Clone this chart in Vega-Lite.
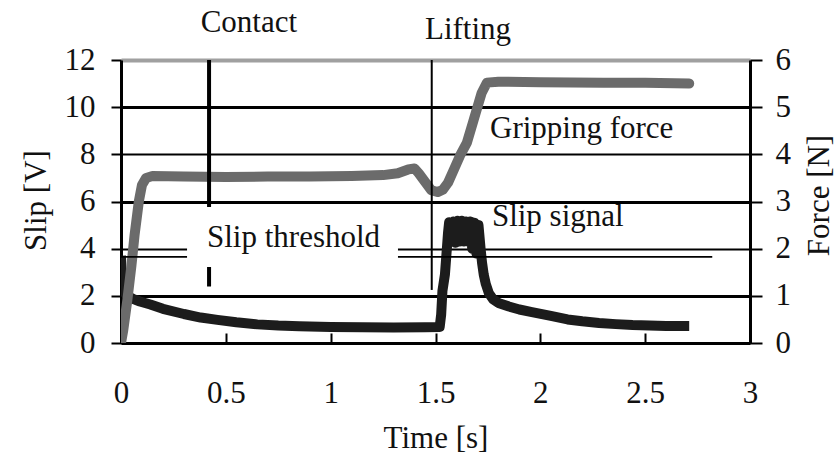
{
  "$schema": "https://vega.github.io/schema/vega-lite/v6.json",
  "width": 629,
  "height": 283,
  "autosize": "none",
  "padding": {"left": 121, "top": 60, "right": 86, "bottom": 112},
  "background": "white",
  "config": {
    "view": {"stroke": null},
    "font": "Liberation Serif",
    "axis": {
      "labelFont": "Liberation Serif",
      "titleFont": "Liberation Serif",
      "labelFontSize": 31,
      "titleFontSize": 31,
      "titleFontWeight": "normal",
      "labelColor": "#111",
      "titleColor": "#111",
      "domainColor": "#000",
      "tickColor": "#000",
      "labelOverlap": false,
      "labelFlush": false
    }
  },
  "datasets": {
    "slip": [
      {"t": 0, "v": 3.7}, {"t": 0.004, "v": 2.6}, {"t": 0.012, "v": 2.2}, {"t": 0.025, "v": 2.05},
      {"t": 0.045, "v": 1.93}, {"t": 0.06, "v": 1.86}, {"t": 0.09, "v": 1.76}, {"t": 0.14, "v": 1.63},
      {"t": 0.2, "v": 1.45}, {"t": 0.3, "v": 1.23}, {"t": 0.38, "v": 1.08}, {"t": 0.46, "v": 0.98},
      {"t": 0.55, "v": 0.88}, {"t": 0.65, "v": 0.79}, {"t": 0.75, "v": 0.74}, {"t": 0.85, "v": 0.71},
      {"t": 1.0, "v": 0.68}, {"t": 1.15, "v": 0.67}, {"t": 1.3, "v": 0.66}, {"t": 1.45, "v": 0.67},
      {"t": 1.52, "v": 0.68}, {"t": 1.527, "v": 1.2}, {"t": 1.533, "v": 2.2}, {"t": 1.545, "v": 2.9},
      {"t": 1.55, "v": 3.5}, {"t": 1.555, "v": 4.1}, {"t": 1.56, "v": 4.7}, {"t": 1.565, "v": 5.12},
      {"t": 1.575, "v": 4.3}, {"t": 1.585, "v": 5.15}, {"t": 1.595, "v": 4.25}, {"t": 1.605, "v": 5.18},
      {"t": 1.615, "v": 4.3}, {"t": 1.625, "v": 5.18}, {"t": 1.635, "v": 4.3}, {"t": 1.645, "v": 5.15},
      {"t": 1.655, "v": 4.3}, {"t": 1.665, "v": 5.15}, {"t": 1.675, "v": 4.0}, {"t": 1.685, "v": 5.1},
      {"t": 1.695, "v": 3.8}, {"t": 1.705, "v": 5.0}, {"t": 1.715, "v": 4.0}, {"t": 1.722, "v": 3.4},
      {"t": 1.73, "v": 2.9}, {"t": 1.74, "v": 2.5}, {"t": 1.755, "v": 2.1}, {"t": 1.775, "v": 1.85},
      {"t": 1.8, "v": 1.7}, {"t": 1.85, "v": 1.55}, {"t": 1.9, "v": 1.42}, {"t": 1.96, "v": 1.31},
      {"t": 2.05, "v": 1.15}, {"t": 2.13, "v": 1.0}, {"t": 2.2, "v": 0.92}, {"t": 2.28, "v": 0.85},
      {"t": 2.36, "v": 0.8}, {"t": 2.44, "v": 0.76}, {"t": 2.52, "v": 0.74}, {"t": 2.6, "v": 0.72},
      {"t": 2.71, "v": 0.72}
    ],
    "force": [
      {"t": 0, "f": 0}, {"t": 0.01, "f": 0.25}, {"t": 0.03, "f": 0.9}, {"t": 0.05, "f": 1.65},
      {"t": 0.065, "f": 2.3}, {"t": 0.085, "f": 3.0}, {"t": 0.1, "f": 3.35}, {"t": 0.12, "f": 3.5},
      {"t": 0.15, "f": 3.54}, {"t": 0.3, "f": 3.53}, {"t": 0.5, "f": 3.52}, {"t": 0.7, "f": 3.53},
      {"t": 0.9, "f": 3.53}, {"t": 1.1, "f": 3.54}, {"t": 1.25, "f": 3.56}, {"t": 1.32, "f": 3.6},
      {"t": 1.37, "f": 3.68}, {"t": 1.4, "f": 3.7}, {"t": 1.42, "f": 3.6}, {"t": 1.45, "f": 3.42},
      {"t": 1.48, "f": 3.24}, {"t": 1.51, "f": 3.2}, {"t": 1.535, "f": 3.25}, {"t": 1.56, "f": 3.4},
      {"t": 1.59, "f": 3.7}, {"t": 1.62, "f": 4.0}, {"t": 1.65, "f": 4.25}, {"t": 1.68, "f": 4.7},
      {"t": 1.7, "f": 5.0}, {"t": 1.72, "f": 5.3}, {"t": 1.745, "f": 5.52}, {"t": 1.8, "f": 5.54},
      {"t": 2.0, "f": 5.53}, {"t": 2.3, "f": 5.52}, {"t": 2.5, "f": 5.52}, {"t": 2.71, "f": 5.5}
    ],
    "threshold": [{"t": 0, "t2": 2.82, "v": 3.65}],
    "contact": [{"t": 0.42, "lo": 2.4, "hi": 12}],
    "lifting": [{"t": 1.482, "lo": 2.25, "hi": 12}],
    "box": [{"t": 0.315, "t2": 1.321, "lo": 3.22, "hi": 5.77}],
    "labelsCenter": [
      {"t": 0.61, "v": 13.19, "label": "Contact"},
      {"t": 1.655, "v": 12.89, "label": "Lifting"},
      {"t": 0.823, "v": 4.07, "label": "Slip threshold"}
    ],
    "labelsLeft": [
      {"t": 1.76, "v": 8.69, "label": "Gripping force"},
      {"t": 1.769, "v": 4.96, "label": "Slip signal"}
    ]
  },
  "encoding": {
    "x": {
      "field": "t",
      "type": "quantitative",
      "scale": {"domain": [0, 3], "nice": false},
      "axis": {
        "values": [0, 0.5, 1, 1.5, 2, 2.5, 3],
        "format": "~g",
        "title": "Time [s]",
        "grid": false,
        "tickSize": -10,
        "tickWidth": 2,
        "domainWidth": 3,
        "labelBaseline": "alphabetic",
        "labelPadding": 69,
        "titleX": 314.5,
        "titleY": 104,
        "titleBaseline": "alphabetic",
        "titleAlign": "center"
      }
    }
  },
  "layer": [
    {
      "data": {"name": "slip"},
      "mark": {"type": "line", "color": "#1c1c1c", "strokeWidth": 10, "strokeJoin": "round", "clip": true},
      "encoding": {
        "y": {
          "field": "v",
          "type": "quantitative",
          "scale": {"domain": [0, 12], "nice": false},
          "axis": {
            "orient": "left",
            "values": [0, 2, 4, 6, 8, 10, 12],
            "title": "Slip [V]",
            "grid": true,
            "gridColor": {"condition": {"test": "datum.value === 12", "value": "#a0a0a0"}, "value": "#000"},
            "gridWidth": {"condition": [{"test": "datum.value === 12", "value": 4}, {"test": "datum.value % 4 === 2", "value": 3}], "value": 2},
            "tickSize": 10,
            "tickWidth": 2,
            "domainWidth": 3,
            "labelPadding": 16,
            "titleAngle": 270,
            "titleX": -76,
            "titleY": 140,
            "titleBaseline": "alphabetic",
            "titleAlign": "center"
          }
        }
      }
    },
    {
      "data": {"name": "force"},
      "mark": {"type": "line", "color": "#6b6b6b", "strokeWidth": 10, "strokeJoin": "round", "strokeCap": "round", "clip": true},
      "encoding": {
        "y": {
          "field": "f",
          "type": "quantitative",
          "scale": {"domain": [0, 6], "nice": false},
          "axis": {
            "orient": "right",
            "values": [0, 1, 2, 3, 4, 5, 6],
            "title": "Force [N]",
            "grid": false,
            "tickSize": 12,
            "tickWidth": 2,
            "domainWidth": 3,
            "labelPadding": 13,
            "titleAngle": 270,
            "titleX": 78,
            "titleY": 135,
            "titleBaseline": "alphabetic",
            "titleAlign": "center"
          }
        }
      }
    },
    {
      "layer": [
        {
          "data": {"name": "threshold"},
          "mark": {"type": "rule", "color": "#000", "strokeWidth": 1.6},
          "encoding": {
            "x2": {"field": "t2"},
            "y": {"field": "v", "type": "quantitative", "scale": {"domain": [0, 12], "nice": false}, "axis": null}
          }
        },
        {
          "data": {"name": "lifting"},
          "mark": {"type": "rule", "color": "#000", "strokeWidth": 2},
          "encoding": {
            "y": {"field": "lo", "type": "quantitative", "scale": {"domain": [0, 12], "nice": false}, "axis": null},
            "y2": {"field": "hi"}
          }
        },
        {
          "data": {"name": "contact"},
          "mark": {"type": "rule", "color": "#000", "strokeWidth": 4},
          "encoding": {
            "y": {"field": "lo", "type": "quantitative", "scale": {"domain": [0, 12], "nice": false}, "axis": null},
            "y2": {"field": "hi"}
          }
        },
        {
          "data": {"name": "box"},
          "mark": {"type": "rect", "fill": "white", "stroke": null},
          "encoding": {
            "x2": {"field": "t2"},
            "y": {"field": "lo", "type": "quantitative", "scale": {"domain": [0, 12], "nice": false}, "axis": null},
            "y2": {"field": "hi"}
          }
        },
        {
          "data": {"name": "labelsCenter"},
          "mark": {"type": "text", "align": "center", "baseline": "alphabetic", "fontSize": 31, "font": "Liberation Serif", "color": "#111"},
          "encoding": {
            "y": {"field": "v", "type": "quantitative", "scale": {"domain": [0, 12], "nice": false}, "axis": null},
            "text": {"field": "label"}
          }
        },
        {
          "data": {"name": "labelsLeft"},
          "mark": {"type": "text", "align": "left", "baseline": "alphabetic", "fontSize": 31, "font": "Liberation Serif", "color": "#111"},
          "encoding": {
            "y": {"field": "v", "type": "quantitative", "scale": {"domain": [0, 12], "nice": false}, "axis": null},
            "text": {"field": "label"}
          }
        }
      ]
    }
  ],
  "resolve": {"scale": {"y": "independent"}}
}
